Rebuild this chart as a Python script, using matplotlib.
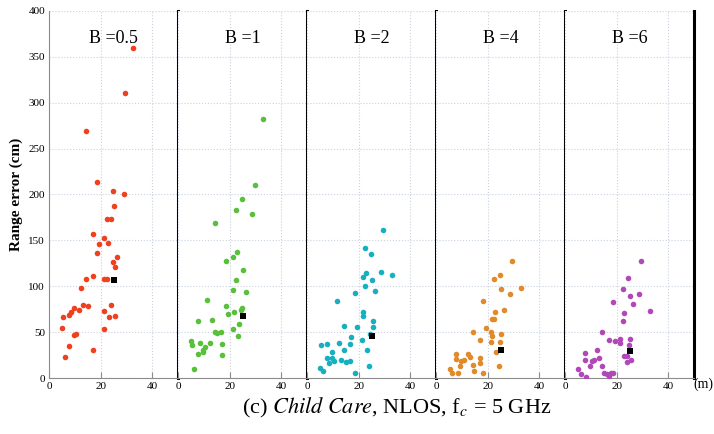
import matplotlib.pyplot as plt

plt.rcParams["font.family"] = ["Liberation Serif", "DejaVu Serif"]
plt.rcParams["mathtext.fontset"] = "stix"

titles = ["B =0.5", "B =1", "B =2", "B =4", "B =6"]
colors = ["#f0401e", "#58c03a", "#17b0c0", "#e08a2a", "#b048b8"]

dist_b05 = [32.5, 29.5, 14.2, 18.4, 24.6, 28.8, 25.1, 22.5, 24.0, 17.1,
            21.2, 19.4, 22.7, 18.4, 26.3, 24.9, 25.5, 16.8, 14.4, 21.4,
            22.5, 12.2, 13.2, 15.0, 11.4, 9.5, 8.3, 7.6, 5.4, 23.8,
            21.4, 23.1, 25.4, 4.9, 21.2, 10.5, 9.6, 7.6, 16.8, 6.1]
err_b05 = [360, 310, 269, 213, 204, 200, 187, 173, 173, 157,
           153, 146, 147, 136, 132, 126, 121, 111, 108, 108,
           108, 98, 80, 78, 74, 76, 72, 69, 66, 79,
           73, 67, 68, 54, 53, 48, 47, 35, 31, 23]

dist_b1 = [33.0, 29.7, 24.6, 22.5, 28.8, 14.1, 22.9, 21.4, 18.4, 25.1,
           22.5, 21.4, 26.4, 11.3, 18.4, 24.6, 21.5, 19.4, 24.2, 7.8,
           13.1, 23.7, 14.4, 16.7, 14.9, 21.2, 23.1, 4.9, 5.4, 8.4,
           12.3, 17.0, 10.5, 9.5, 9.8, 7.6, 16.8, 6.0]
err_b1 = [282, 210, 195, 183, 179, 169, 137, 132, 128, 118,
          107, 96, 94, 85, 78, 76, 72, 70, 74, 62,
          63, 59, 50, 50, 49, 53, 46, 40, 36, 38,
          38, 37, 34, 30, 28, 26, 25, 10]

dist_b2 = [29.5, 22.4, 24.6, 28.8, 32.9, 22.8, 21.5, 25.1, 22.5, 26.4,
           18.4, 11.4, 21.5, 21.5, 25.6, 25.5, 14.2, 19.4, 24.4, 17.1,
           21.2, 16.8, 12.4, 5.4, 7.8, 23.1, 14.4, 9.7, 7.8, 9.6,
           10.6, 13.2, 8.3, 14.9, 16.7, 4.9, 6.1, 24.1, 18.4]
err_b2 = [161, 142, 135, 116, 112, 114, 110, 107, 100, 95,
          93, 84, 72, 68, 62, 56, 57, 56, 48, 45,
          41, 37, 38, 36, 37, 31, 30, 28, 22, 22,
          19, 20, 16, 17, 18, 11, 8, 13, 5]

dist_b4 = [29.4, 22.5, 24.8, 25.2, 32.8, 28.6, 18.3, 26.5, 22.8, 21.5,
           22.5, 19.5, 14.3, 21.4, 21.5, 25.3, 17.2, 21.3, 24.9, 23.2,
           7.9, 12.3, 7.9, 11.0, 13.2, 9.8, 16.9, 16.9, 14.3, 9.4,
           14.7, 5.2, 6.2, 8.6, 18.3, 24.3]
err_b4 = [128, 108, 112, 97, 98, 92, 84, 74, 72, 64,
          64, 55, 50, 50, 46, 48, 41, 39, 39, 28,
          26, 26, 21, 20, 23, 19, 22, 16, 14, 13,
          8, 10, 5, 5, 5, 13]

dist_b6 = [29.4, 24.5, 22.3, 25.2, 28.6, 26.3, 18.5, 32.8, 22.7, 22.5,
           14.2, 17.2, 19.4, 21.4, 21.4, 25.3, 24.9, 12.3, 7.7, 13.3,
           7.6, 10.3, 11.4, 23.0, 23.9, 25.4, 24.1, 9.5, 14.3, 5.0,
           6.2, 8.3, 15.1, 16.4, 17.8, 18.7, 17.2]
err_b6 = [128, 109, 97, 89, 91, 81, 83, 73, 71, 62,
          50, 41, 40, 42, 38, 42, 36, 31, 27, 22,
          20, 19, 20, 24, 24, 20, 17, 13, 13, 10,
          4, 1, 6, 4, 5, 6, 2]

mean_dist = [25.1, 25.1, 25.1, 25.2, 25.0]
mean_err = [107, 68, 46, 31, 29]

dists = [dist_b05, dist_b1, dist_b2, dist_b4, dist_b6]
errs = [err_b05, err_b1, err_b2, err_b4, err_b6]

fig, axes = plt.subplots(1, 5, figsize=(7.14, 4.34), dpi=100, sharey=True)
fig.subplots_adjust(left=0.069, right=0.972, bottom=0.129, top=0.975, wspace=0)

for i, ax in enumerate(axes):
    ax.set_xlim(0, 50)
    ax.set_ylim(0, 400)
    ax.set_xticks([0, 20, 40])
    ax.set_yticks(range(0, 401, 50))
    ax.grid(True, color="#c9d2de", linestyle=":", linewidth=0.8)
    ax.set_axisbelow(True)
    ax.scatter(dists[i], errs[i], s=16, color=colors[i], linewidths=0, zorder=3)
    ax.scatter([mean_dist[i]], [mean_err[i]], s=24, marker="s", color="black",
               linewidths=0, zorder=4)
    ax.text(25, 370, titles[i], ha="center", va="center", fontsize=13)
    ax.spines["top"].set_visible(False)
    ax.spines["bottom"].set_color("#8c8c8c")
    ax.spines["right"].set_color("black")
    ax.spines["right"].set_linewidth(2.2)
    if i == 0:
        ax.spines["left"].set_color("#8c8c8c")
    else:
        ax.spines["left"].set_visible(False)
    ax.tick_params(direction="in", length=4, color="#8c8c8c", labelsize=8,
                   right=False, top=False, pad=3)
    ax.tick_params(axis="y", left=(i == 0), length=0)

axes[0].set_ylabel("Range error (cm)", fontsize=11, fontweight="bold", labelpad=4)
fig.text(0.985, 0.115, "(m)", ha="center", va="center", fontsize=10)
fig.text(0.555, 0.06, r"(c) $\it{Child\ Care}$, NLOS, f$_c$ = 5 GHz",
         ha="center", va="center", fontsize=16)

fig.savefig("out.png", dpi=100)
